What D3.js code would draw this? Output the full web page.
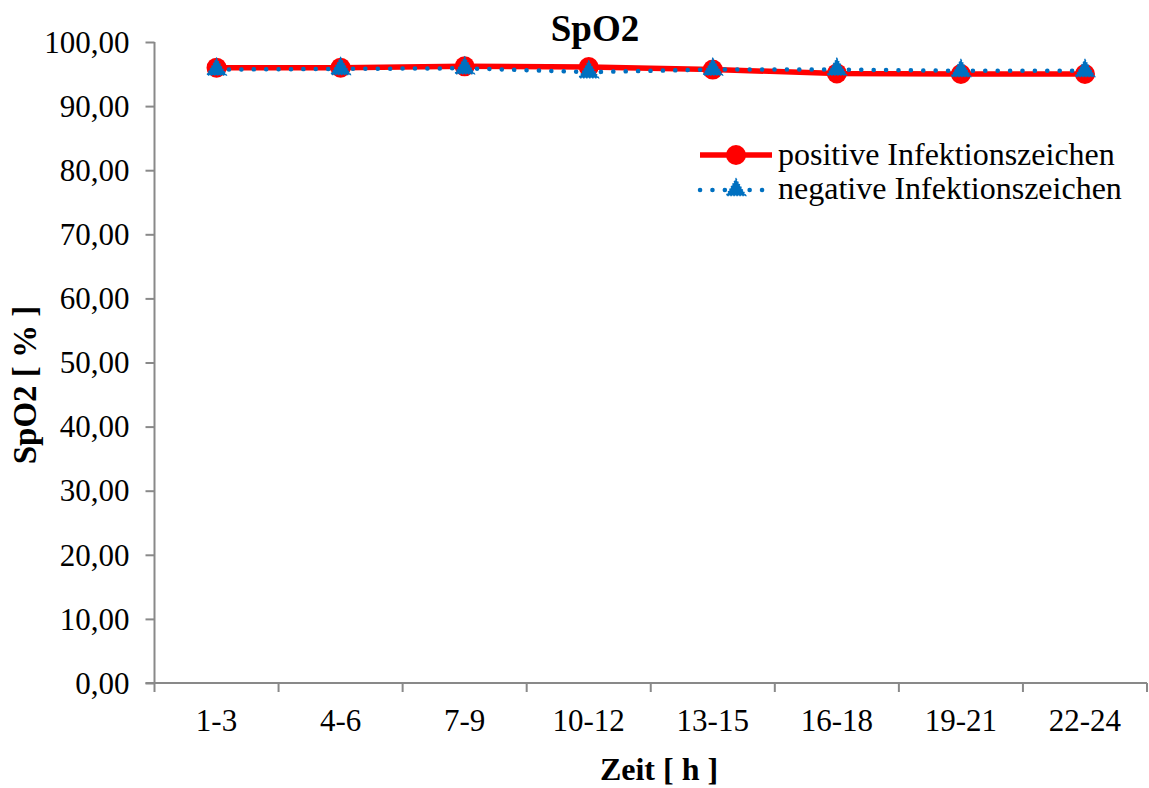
<!DOCTYPE html>
<html><head><meta charset="utf-8">
<script src="https://cdn.jsdelivr.net/npm/d3@7"></script>
<style>body{margin:0;background:#fff}svg{display:block}text{font-family:"Liberation Serif","Times New Roman",serif}</style>
</head><body><svg id="c" width="1149" height="788"></svg>
<script>
const categories = ["1-3","4-6","7-9","10-12","13-15","16-18","19-21","22-24"];
const positive = [96.0, 96.0, 96.2, 96.1, 95.7, 95.1, 95.0, 95.0];
const negative = [95.7, 95.8, 95.9, 95.3, 95.7, 95.7, 95.5, 95.5];
const yTicks = [0,10,20,30,40,50,60,70,80,90,100];
const seriesNames = ["positive Infektionszeichen","negative Infektionszeichen"];

const svg = d3.select("#c");
const L = 154.5, R = 1147, T = 42, B = 683;
const x = d3.scaleBand().domain(categories).range([L, R]);
const y = d3.scaleLinear().domain([0, 100]).range([B, T]);
const axisColor = "#898989";
const fmt = v => d3.format(".2f")(v).replace(".", ",");

// Y axis
const ya = svg.append("g").attr("transform", `translate(${L},0)`)
  .call(d3.axisLeft(y).tickValues(yTicks).tickSize(9).tickPadding(16).tickFormat(fmt));
ya.select(".domain").attr("stroke", axisColor).attr("stroke-width", 2).attr("d", `M0,${T}V${B}`);
ya.selectAll(".tick line").attr("stroke", axisColor).attr("stroke-width", 2);
ya.selectAll(".tick text").attr("fill", "#000").style("font-size", "31px").attr("dy", "0.33em");

// X axis with boundary ticks
const xa = svg.append("g").attr("transform", `translate(0,${B})`);
xa.append("line").attr("x1", L - 9).attr("x2", R).attr("y1", 0).attr("y2", 0)
  .attr("stroke", axisColor).attr("stroke-width", 2);
const bounds = categories.map(c => x(c)).concat([x(categories[categories.length-1]) + x.bandwidth()]);
xa.selectAll("line.tk").data(bounds).enter().append("line").attr("class","tk")
  .attr("x1", d => d).attr("x2", d => d).attr("y1", 0).attr("y2", 9)
  .attr("stroke", axisColor).attr("stroke-width", 2);
xa.selectAll("text.lab").data(categories).enter().append("text").attr("class","lab")
  .attr("x", d => x(d) + x.bandwidth()/2).attr("y", 48)
  .attr("text-anchor", "middle").style("font-size", "31px").text(d => d);

// Titles
svg.append("text").attr("x", 595).attr("y", 41).attr("text-anchor", "middle")
  .style("font-size", "37px").style("font-weight", "bold").text("SpO2");
svg.append("text").attr("x", 659).attr("y", 780).attr("text-anchor", "middle")
  .style("font-size", "32px").style("font-weight", "bold").text("Zeit [ h ]");
svg.append("text").attr("transform", `translate(36,385) rotate(-90)`).attr("text-anchor", "middle")
  .style("font-size", "33px").style("font-weight", "bold").text("SpO2 [ % ]");

const cx = (d, i) => x(categories[i]) + x.bandwidth()/2;
const line = d3.line().x((d, i) => cx(d, i)).y(d => y(d));

// positive series (red, solid, circles)
svg.append("path").datum(positive).attr("d", line).attr("fill", "none")
  .attr("stroke", "#ff0000").attr("stroke-width", 5.5).attr("stroke-linejoin", "round");
svg.selectAll("circle.pos").data(positive).enter().append("circle").attr("class","pos")
  .attr("cx", cx).attr("cy", d => y(d)).attr("r", 10).attr("fill", "#ff0000");

// negative series (blue, dotted, triangles)
const blue = "#0070c0";
svg.append("path").datum(negative).attr("d", line).attr("fill", "none")
  .attr("stroke", blue).attr("stroke-width", 4.5).attr("stroke-linecap", "round")
  .attr("stroke-dasharray", "0.1 12.3");
const tri = d3.symbol().type(d3.symbolTriangle).size(160);
svg.selectAll("path.neg").data(negative).enter().append("path").attr("class","neg")
  .attr("transform", (d, i) => `translate(${cx(d, i)},${y(d)})`).attr("d", tri)
  .attr("fill", blue).attr("stroke", blue).attr("stroke-width", 1.5).attr("stroke-dasharray", "1.5 1.5");

// Legend
const lg = svg.append("g");
lg.append("line").attr("x1", 700).attr("x2", 772).attr("y1", 155).attr("y2", 155)
  .attr("stroke", "#ff0000").attr("stroke-width", 5.5);
lg.append("circle").attr("cx", 736).attr("cy", 155).attr("r", 10).attr("fill", "#ff0000");
lg.append("text").attr("x", 778).attr("y", 165).style("font-size", "32px").text(seriesNames[0]);
lg.append("line").attr("x1", 700).attr("x2", 772).attr("y1", 190).attr("y2", 190)
  .attr("stroke", blue).attr("stroke-width", 4.5).attr("stroke-linecap", "round")
  .attr("stroke-dasharray", "0.1 12.3");
lg.append("path").attr("transform", "translate(736,190)").attr("d", tri)
  .attr("fill", blue).attr("stroke", blue).attr("stroke-width", 1.5).attr("stroke-dasharray", "1.5 1.5");
lg.append("text").attr("x", 778).attr("y", 199).style("font-size", "32px").text(seriesNames[1]);
</script></body></html>
